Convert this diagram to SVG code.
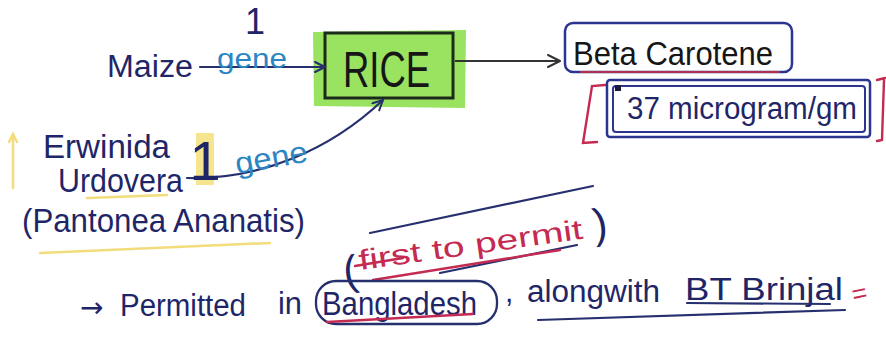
<svg xmlns="http://www.w3.org/2000/svg" width="886" height="338" viewBox="0 0 886 338">
  <style>
    .ink { font-family: "Liberation Sans", "DejaVu Sans", sans-serif; fill: #1f2668; }
    .blue { font-family: "Liberation Sans", "DejaVu Sans", sans-serif; fill: #2c86c4; }
    .red { font-family: "Liberation Sans", "DejaVu Sans", sans-serif; fill: #c42a52; }
    .black { font-family: "Liberation Sans", "DejaVu Sans", sans-serif; fill: #161616; }
    .line { fill: none; stroke: #26306e; stroke-width: 2.2; stroke-linecap: round; stroke-linejoin: round; }
    .redline { fill: none; stroke: #c42a52; stroke-width: 2.4; stroke-linecap: round; }
    .yellow { fill: none; stroke: #f0d35a; stroke-width: 2.5; stroke-linecap: round; opacity: 0.8; }
  </style>
  <defs>
    <marker id="openHead" viewBox="0 0 12 12" refX="11" refY="6" markerWidth="12" markerHeight="12" markerUnits="userSpaceOnUse" orient="auto">
      <path d="M1,1 L11,6 L1,11" fill="none" stroke="#26306e" stroke-width="2" stroke-linecap="round" stroke-linejoin="round"/>
    </marker>
    <marker id="openHeadGrey" viewBox="0 0 14 14" refX="13" refY="7" markerWidth="14" markerHeight="14" markerUnits="userSpaceOnUse" orient="auto">
      <path d="M1,1 L13,7 L1,13" fill="none" stroke="#333" stroke-width="2" stroke-linecap="round" stroke-linejoin="round"/>
    </marker>
  </defs>
  <rect width="886" height="338" fill="#ffffff"/>

  <!-- sources on the left -->
  <g id="maize">
    <text class="ink" x="107" y="77" font-size="31" textLength="86" lengthAdjust="spacingAndGlyphs">Maize</text>
  </g>
  <g id="erwinia">
    <path class="yellow" d="M13,188 L13,136 M9,142 L13,134 L17,142"/>
    <text class="ink" x="43" y="158" font-size="33" textLength="127" lengthAdjust="spacingAndGlyphs">Erwinida</text>
    <text class="ink" x="58" y="192" font-size="33" textLength="125" lengthAdjust="spacingAndGlyphs">Urdovera</text>
    <path class="yellow" d="M87,198 L167,195"/>
    <text class="ink" x="22" y="232" font-size="33" textLength="283" lengthAdjust="spacingAndGlyphs">(Pantonea Ananatis)</text>
    <path class="yellow" d="M40,253 L270,243"/>
  </g>

  <!-- central node -->
  <g id="rice">
    <path d="M313,32 L466,30 L465,108 L314,106 Z" fill="#8ee04f" opacity="0.9"/>
    <rect x="325" y="33" width="128" height="65" fill="none" stroke="#1c2a1c" stroke-width="3"/>
    <text class="black" x="343" y="87" font-size="50" textLength="87" lengthAdjust="spacingAndGlyphs">RICE</text>
  </g>

  <!-- product and amount -->
  <g id="beta-carotene">
    <rect x="565" y="23" width="227" height="49" rx="8" fill="none" stroke="#2b3590" stroke-width="2.5"/>
    <path d="M580,72 L780,72" stroke="#b03050" stroke-width="1.8" fill="none"/>
    <text class="black" x="573" y="65" font-size="33" textLength="200" lengthAdjust="spacingAndGlyphs">Beta Carotene</text>
  </g>
  <g id="amount">
    <path class="redline" d="M605,85 L592,86 L583,143 L597,142"/>
    <path class="redline" d="M877,80 L885,78 M884,80 L882,140 L877,141"/>
    <rect x="607" y="80" width="263" height="57" rx="3" fill="none" stroke="#2b3590" stroke-width="2.5"/>
    <rect x="613" y="86" width="252" height="46" rx="3" fill="none" stroke="#2b3590" stroke-width="2"/>
    <rect x="615" y="85" width="6" height="6" fill="#1a1a3a"/>
    <text class="ink" x="627" y="119" font-size="31" textLength="230" lengthAdjust="spacingAndGlyphs">37 microgram/gm</text>
  </g>

  <!-- approval note -->
  <g id="first-to-permit">
    <path class="line" d="M370,233 L593,186"/>
    <path class="line" d="M440,273 L577,245"/>
    <text class="ink" x="343" y="285" font-size="42" transform="rotate(-8 350 270)">(</text>
    <text class="ink" x="593" y="238" font-size="42" transform="rotate(-8 600 225)">)</text>
    <text class="red" x="360" y="270" font-size="28" textLength="226" lengthAdjust="spacingAndGlyphs" transform="rotate(-8 360 270)">first to permit</text>
    <path class="redline" d="M355,266 L403,258"/>
    <path class="redline" d="M373,280 L560,250"/>
  </g>
  <g id="permitted">
    <text x="80" y="317" font-family="DejaVu Sans, sans-serif" font-size="28" fill="#1f2668">→</text>
    <text class="ink" x="120" y="316" font-size="31" textLength="126" lengthAdjust="spacingAndGlyphs">Permitted</text>
    <text class="ink" x="278" y="314" font-size="31" textLength="24" lengthAdjust="spacingAndGlyphs">in</text>
  </g>
  <g id="bangladesh">
    <rect x="316" y="281" width="181" height="43" rx="20" fill="none" stroke="#26306e" stroke-width="2.3"/>
    <text class="ink" x="322" y="315" font-size="33" textLength="155" lengthAdjust="spacingAndGlyphs">Bangladesh</text>
    <path class="redline" d="M327,322 L473,314"/>
  </g>
  <g id="brinjal">
    <text class="ink" x="505" y="302" font-size="30">,</text>
    <text class="ink" x="527" y="302" font-size="31" textLength="133" lengthAdjust="spacingAndGlyphs">alongwith</text>
    <text class="ink" x="685" y="300" font-size="31" textLength="158" lengthAdjust="spacingAndGlyphs">BT Brinjal</text>
    <path class="line" d="M687,303 L830,304"/>
    <path class="line" d="M538,320 L845,310"/>
    <text class="red" x="852" y="302" font-size="26" transform="rotate(-12 860 294)">=</text>
  </g>

  <!-- connectors -->
  <g id="connectors">
    <path class="line" d="M200,67 L325,67" marker-end="url(#openHead)"/>
    <text class="ink" x="255" y="34" font-size="36" text-anchor="middle">1</text>
    <text class="blue" x="217" y="68" font-size="28" textLength="70" lengthAdjust="spacingAndGlyphs">gene</text>

    <path class="line" d="M187,178 C260,180 330,150 383,100" marker-end="url(#openHead)"/>
    <rect x="196" y="133" width="18" height="52" fill="#f3dc6a" opacity="0.75"/>
    <text class="ink" x="205" y="180" font-size="56" text-anchor="middle">1</text>
    <text class="blue" x="237" y="174" font-size="30" textLength="73" lengthAdjust="spacingAndGlyphs" transform="rotate(-10 237 174)">gene</text>

    <path d="M455,61 L560,61" fill="none" stroke="#333" stroke-width="2.2" marker-end="url(#openHeadGrey)"/>
  </g>
</svg>
